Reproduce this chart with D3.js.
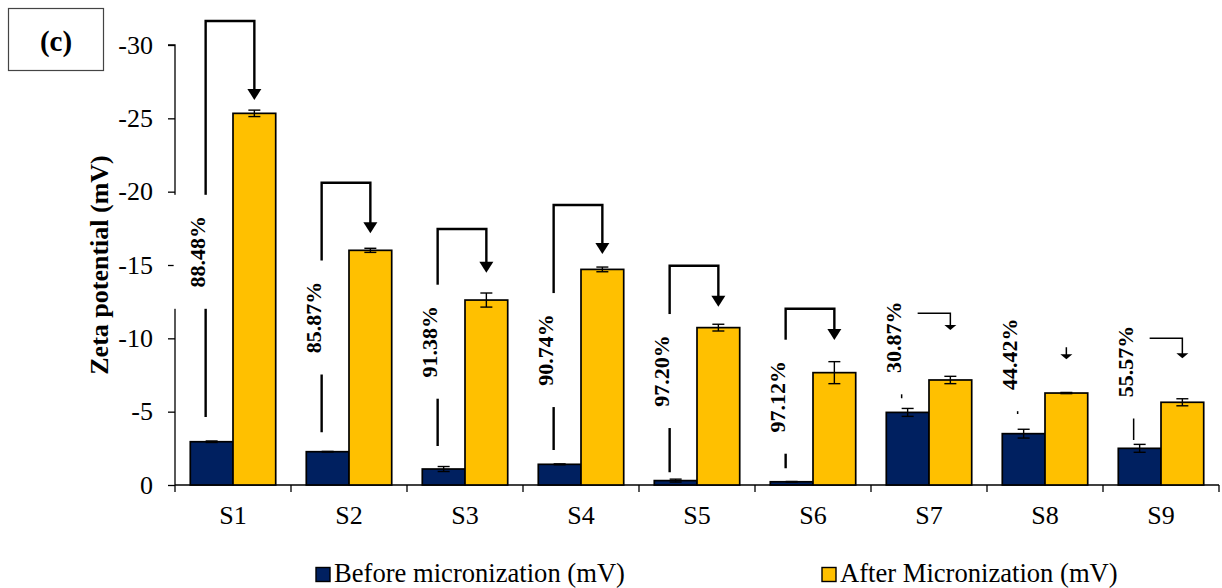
<!DOCTYPE html>
<html><head><meta charset="utf-8">
<script src="https://cdn.jsdelivr.net/npm/d3@7"></script>
<style>body{margin:0;background:#fff} svg{display:block}</style>
</head><body><svg id="c" width="1222" height="588"></svg>
<script>
// ---- data ----
const categories = ["S1","S2","S3","S4","S5","S6","S7","S8","S9"];
const seriesKeys = ["before","after"];
const seriesNames = ["Before micronization (mV)","After Micronization (mV)"];
const before    = [-2.95, -2.27, -1.09, -1.41, -0.30, -0.22, -4.95, -3.50, -2.50];
const beforeErr = [0.05, 0.02, 0.17, 0.03, 0.10, 0.02, 0.27, 0.30, 0.27];
const after     = [-25.34, -16.00, -12.61, -14.70, -10.73, -7.66, -7.16, -6.27, -5.64];
const afterErr  = [0.22, 0.14, 0.48, 0.16, 0.23, 0.75, 0.25, 0.04, 0.24];
const yTicks = [0, -5, -10, -15, -20, -25, -30];
// annotation (reduction %) values read in mV units
const pctLabels  = ["88.48%","85.87%","91.38%","90.74%","97.20%","97.12%","30.87%","44.42%","55.57%"];
const bracketTop = [-31.64, -20.61, -17.45, -19.09, -14.95, -12.02, -11.71, -9.39, -10.00];
const arrowTip   = [-26.25, -17.16, -14.47, -15.75, -12.16, -9.89, -10.57, -8.57, -8.64];
const labelMid   = [-15.90, -11.42, -9.77, -9.20, -7.77, -6.02, -10.07, -8.92, -8.42];
const lineBottom = [-4.64, -3.59, -2.66, -2.39, -0.87, -1.14, -5.91, -4.84, -3.07];
const bracketKind = ["full","full","full","full","full","full","thin","thinArrow","thin"];

// ---- drawing ----
const svg = d3.select("#c");
const FONT = "'Liberation Serif','Times New Roman',serif";
const colors = {before:"#002060", after:"#FFC000"};

const x0 = d3.scaleBand().domain(categories).range([175,1219]).padding(0);
const x1 = d3.scaleBand().domain(seriesKeys).range([0,x0.bandwidth()]).paddingInner(0).paddingOuter(0.358);
const y = d3.scaleLinear().domain([0,-30]).range([485,45]);

const rows = categories.map((c,i)=>({c, i, before:before[i], after:after[i], beforeErr:beforeErr[i], afterErr:afterErr[i]}));

// y axis
const yAxis = d3.axisLeft(y).tickValues(yTicks).tickSize(7).tickPadding(15)
  .tickFormat(d => d===0 ? "0" : "-" + Math.abs(d));
const gy = svg.append("g").attr("transform","translate(175,0)").call(yAxis);
gy.select(".domain").attr("stroke","#000").attr("stroke-width",1.3).attr("d","M-7,"+y(-30)+"H0V"+y(0));
gy.selectAll(".tick line").attr("stroke","#000").attr("stroke-width",1.3);
gy.selectAll(".tick text").attr("font-family",FONT).attr("font-size",26).attr("fill","#000");

// x axis baseline + boundary ticks
const gx = svg.append("g");
gx.append("line").attr("x1",x0.range()[0]).attr("x2",x0.range()[1]).attr("y1",y(0)).attr("y2",y(0))
  .attr("stroke","#000").attr("stroke-width",1.3);
const bounds = categories.map(c=>x0(c)).concat([x0(categories[categories.length-1])+x0.bandwidth()]);
gx.selectAll("line.tk").data(bounds).join("line").attr("class","tk")
  .attr("x1",d=>d).attr("x2",d=>d).attr("y1",y(0)).attr("y2",y(0)+7)
  .attr("stroke","#000").attr("stroke-width",1.3);
gx.selectAll("text").data(categories).join("text")
  .attr("x",c=>x0(c)+x0.bandwidth()/2).attr("y",y(0)+39)
  .attr("text-anchor","middle").attr("font-family",FONT).attr("font-size",26).text(c=>c);

// bars
const groups = svg.append("g").selectAll("g").data(rows).join("g")
  .attr("transform",d=>`translate(${x0(d.c)},0)`);
seriesKeys.forEach(k=>{
  groups.append("rect")
    .attr("x",x1(k)).attr("width",x1.bandwidth())
    .attr("y",d=>y(d[k])).attr("height",d=>y(0)-y(d[k]))
    .attr("fill",colors[k]).attr("stroke","#000").attr("stroke-width",1.7);
});
// error bars
seriesKeys.forEach(k=>{
  const cx = x1(k)+x1.bandwidth()/2;
  const eg = groups.append("g").attr("stroke","#000").attr("stroke-width",1.4);
  eg.append("line").attr("x1",cx).attr("x2",cx)
    .attr("y1",d=>y(d[k]-d[k+"Err"])).attr("y2",d=>y(d[k]+d[k+"Err"]));
  eg.append("line").attr("x1",cx-6).attr("x2",cx+6)
    .attr("y1",d=>y(d[k]-d[k+"Err"])).attr("y2",d=>y(d[k]-d[k+"Err"]));
  eg.append("line").attr("x1",cx-6).attr("x2",cx+6)
    .attr("y1",d=>y(d[k]+d[k+"Err"])).attr("y2",d=>y(d[k]+d[k+"Err"]));
});

// annotations
const ag = svg.append("g");
categories.forEach((c,i)=>{
  const kind = bracketKind[i];
  const thick = kind==="full";
  const lw = thick ? 2.4 : 1.5;
  const headH = thick ? 11 : 5;
  const headW = thick ? 7 : 6;
  const lx = x0(c)+x1("before")+x1.bandwidth()/2-6;
  const ax = x0(c)+x1("after")+x1.bandwidth()/2;
  const tip = y(arrowTip[i]);
  let p;
  if (kind==="thinArrow") {
    p = `M${lx},${y(lineBottom[i])}V${y(labelMid[i])}M${ax},${y(bracketTop[i])}V${tip-headH+1}`;
  } else {
    p = `M${lx},${y(lineBottom[i])}V${y(bracketTop[i])}H${ax}V${tip-headH+1}`;
  }
  ag.append("path").attr("d",p).attr("fill","none").attr("stroke","#000").attr("stroke-width",lw);
  ag.append("path").attr("d",`M${ax-headW},${tip-headH}L${ax+headW},${tip-headH}L${ax},${tip}Z`).attr("fill","#000");
  const tx = lx-8, ty = y(labelMid[i]);
  ag.append("rect").attr("x",tx-24).attr("y",ty-57).attr("width",48).attr("height",114).attr("fill","#fff");
  ag.append("text").attr("transform",`translate(${tx},${ty}) rotate(-90)`)
    .attr("text-anchor","middle").attr("dominant-baseline","central")
    .attr("font-family",FONT).attr("font-weight","bold").attr("font-size",22).text(pctLabels[i]);
});

// y title
svg.append("text").attr("transform",`translate(99,${(y(0)+y(-30))/2}) rotate(-90)`)
  .attr("text-anchor","middle").attr("dominant-baseline","central")
  .attr("font-family",FONT).attr("font-weight","bold").attr("font-size",26).text("Zeta potential (mV)");

// panel label
svg.append("rect").attr("x",8.5).attr("y",8.5).attr("width",95).attr("height",62)
  .attr("fill","#fff").attr("stroke","#444").attr("stroke-width",1.2);
svg.append("text").attr("x",56).attr("y",41).attr("text-anchor","middle").attr("dominant-baseline","central")
  .attr("font-family",FONT).attr("font-weight","bold").attr("font-size",29).text("(c)");

// legend
const legX = [316, 822];
const lg = svg.append("g");
seriesKeys.forEach((k,j)=>{
  lg.append("rect").attr("x",legX[j]).attr("y",567.5).attr("width",14).attr("height",14)
    .attr("fill",colors[k]).attr("stroke","#000").attr("stroke-width",1.4);
  lg.append("text").attr("x",legX[j]+18).attr("y",582).attr("font-family",FONT).attr("font-size",26.6)
    .text(seriesNames[j]);
});
</script></body></html>
